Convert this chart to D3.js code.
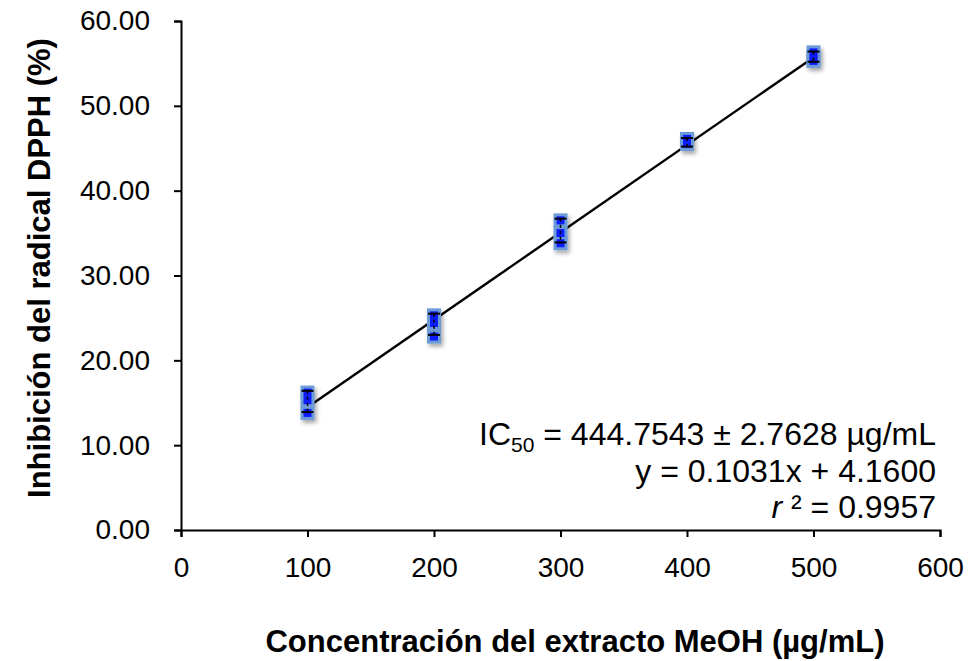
<!DOCTYPE html>
<html>
<head>
<meta charset="utf-8">
<script src="https://cdn.jsdelivr.net/npm/d3@7"></script>
<style>
  body { margin: 0; background: #fff; }
  text { font-family: "Liberation Sans", Arial, sans-serif; }
</style>
</head>
<body>
<div id="chart"></div>
<script>
// concentrations and triplicate readings (% inhibition)
const concentrations = [100, 200, 300, 400, 500];
const rep1 = [16.2, 25.3, 36.5, 46.1, 56.3];
const rep2 = [15.3, 24.4, 35.0, 45.8, 55.6];
const rep3 = [13.8, 22.8, 33.8, 45.5, 55.3];
const errTop = [16.4, 25.5, 36.7, 46.2, 56.4];
const errBottom = [13.9, 23.0, 33.9, 45.2, 55.2];
const slope = 0.1031, intercept = 4.16;
const xTicks = [0, 100, 200, 300, 400, 500, 600];
const yTicks = [0, 10, 20, 30, 40, 50, 60];

// set the dimensions and margins of the graph
const margin = { top: 21, right: 33, bottom: 131, left: 181 },
  width = 973 - margin.left - margin.right,
  height = 661 - margin.top - margin.bottom;

const svg = d3.select("#chart")
  .append("svg")
  .attr("width", 973)
  .attr("height", 661);

const defs = svg.append("defs");
defs.append("filter").attr("id", "shadow")
  .attr("x", "-50%").attr("y", "-50%").attr("width", "200%").attr("height", "200%")
  .append("feDropShadow")
  .attr("dx", 2).attr("dy", 3).attr("stdDeviation", 2)
  .attr("flood-color", "#000").attr("flood-opacity", 0.35);

const g = svg.append("g")
  .attr("transform", `translate(${margin.left},${margin.top})`);

const x = d3.scaleLinear().domain([0, 600]).range([0, width]);
const y = d3.scaleLinear().domain([0, 60]).range([height, 0]);

// axes
const xAxis = g.append("g")
  .attr("transform", `translate(0,${height})`)
  .call(d3.axisBottom(x).tickValues(xTicks).tickSize(7).tickPadding(20).tickFormat(d3.format("d")));
const yAxis = g.append("g")
  .call(d3.axisLeft(y).tickValues(yTicks).tickSize(7).tickPadding(24).tickFormat(d3.format(".2f")));

[xAxis, yAxis].forEach(a => {
  a.select(".domain").attr("stroke", "#000").attr("stroke-width", 2);
  a.selectAll(".tick line").attr("stroke", "#000").attr("stroke-width", 2);
  a.selectAll(".tick text")
    .attr("fill", "#000")
    .style("font-size", "28px")
    .style("font-family", "'Liberation Sans', Arial, sans-serif");
});

// regression line
g.append("line")
  .attr("x1", x(100)).attr("y1", y(slope * 100 + intercept))
  .attr("x2", x(500)).attr("y2", y(slope * 500 + intercept))
  .attr("stroke", "#000").attr("stroke-width", 2.4);

// points
const pts = [];
concentrations.forEach((c, i) => {
  [rep1[i], rep2[i], rep3[i]].forEach(v => pts.push({ c, v }));
});

const marks = g.append("g").attr("filter", "url(#shadow)");
marks.selectAll("rect.halo")
  .data(pts)
  .join("rect")
  .attr("class", "halo")
  .attr("x", d => x(d.c) - 7)
  .attr("y", d => y(d.v) - 7)
  .attr("width", 14).attr("height", 14)
  .attr("fill", "#6d9bd8");
marks.selectAll("rect.core")
  .data(pts)
  .join("rect")
  .attr("class", "core")
  .attr("x", d => x(d.c) - 4)
  .attr("y", d => y(d.v) - 4)
  .attr("width", 8).attr("height", 8)
  .attr("fill", "#0b1fff");

// error bars
const eb = g.append("g");
concentrations.forEach((c, i) => {
  eb.append("line")
    .attr("x1", x(c)).attr("x2", x(c))
    .attr("y1", y(errTop[i])).attr("y2", y(errBottom[i]))
    .attr("stroke", "#000").attr("stroke-width", 1.5).attr("stroke-dasharray", "3,3");
  [errTop[i], errBottom[i]].forEach(v => {
    eb.append("line")
      .attr("x1", x(c) - 6).attr("x2", x(c) + 6)
      .attr("y1", y(v)).attr("y2", y(v))
      .attr("stroke", "#000").attr("stroke-width", 2);
  });
});

// annotation
const ann = svg.append("g").style("font-size", "32px").attr("fill", "#000");
const t1 = ann.append("text").attr("x", 936).attr("y", 445).attr("text-anchor", "end");
t1.append("tspan").text("IC");
t1.append("tspan").attr("dy", 7).style("font-size", "21px").text("50");
t1.append("tspan").attr("dy", -7).text(" = 444.7543 ± 2.7628 µg/mL");
ann.append("text").attr("x", 936).attr("y", 482).attr("text-anchor", "end")
  .text("y = 0.1031x + 4.1600");
const t3 = ann.append("text").attr("x", 936).attr("y", 518).attr("text-anchor", "end");
t3.append("tspan").style("font-style", "italic").text("r");
t3.append("tspan").text(" ² = 0.9957");

// axis titles
svg.append("text")
  .attr("x", 575).attr("y", 652)
  .attr("text-anchor", "middle")
  .style("font-size", "31px").style("font-weight", "bold")
  .text("Concentración del extracto MeOH (µg/mL)");
svg.append("text")
  .attr("transform", "translate(50,268) rotate(-90)")
  .attr("text-anchor", "middle")
  .style("font-size", "31px").style("font-weight", "bold")
  .text("Inhibición del radical DPPH (%)");
</script>
</body>
</html>
